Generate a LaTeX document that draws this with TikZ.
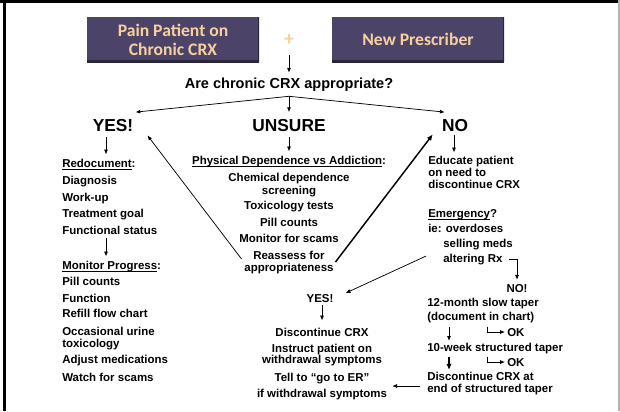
\documentclass[tikz,border=0pt]{standalone}
\usepackage{fontspec}
\setmainfont{Liberation Sans}
\newfontfamily\carlito{Carlito}
\usetikzlibrary{arrows.meta,calc}
\definecolor{slate}{RGB}{76,68,104}
\definecolor{slateedge}{RGB}{42,37,58}
\definecolor{peach}{RGB}{248,208,158}
\newsavebox\ulbox
\newcommand\ulin[1]{\sbox\ulbox{#1}\rlap{\rule[-2.1pt]{\wd\ulbox}{0.7pt}}\usebox\ulbox}

\begin{document}
\begin{tikzpicture}[x=0.75pt,y=0.75pt,yscale=-1,xscale=1,
  txt/.style={font=\fontsize{8.6}{10}\selectfont\bfseries,inner sep=0pt,anchor=base west},
  mid/.style={font=\fontsize{8.6}{10}\selectfont\bfseries,inner sep=0pt,anchor=base},
  big/.style={font=\fontsize{13}{15}\selectfont\bfseries,inner sep=0pt,anchor=base},
  ques/.style={font=\fontsize{10.9}{13}\selectfont\bfseries,inner sep=0pt,anchor=base},
  slab/.style={fill=slate,minimum width=129pt,minimum height=33.75pt,inner sep=0pt,align=center,text=peach,
    font=\carlito\bfseries\fontsize{13.2}{14.25}\selectfont,
    path picture={\draw[slateedge,line width=3pt] (path picture bounding box.south west) -- (path picture bounding box.south east);
      \draw[slateedge,line width=1pt] (path picture bounding box.south east) -- (path picture bounding box.north east);}},
  arr/.style={-{Latex[length=3.6pt,width=3pt]},line width=0.55pt},
  thickarr/.style={-{Latex[length=4.5pt,width=4pt]},line width=1.1pt}]
%uncomment if require: \path (0,411); %set diagram left start at 0, and has height of 411
\useasboundingbox (0,0) rectangle (620,411);

%Straight Lines (frame)
\draw[line width=2.2pt] (0,1.4) -- (620,1.4);
\draw[line width=2pt] (4.2,0) -- (4.2,411);
\draw[black!30,line width=0.9pt] (619,0) -- (619,411);

%Shape: Boxes
\draw (173,39.5) node (patient) [slab] {Pain Patient on\\Chronic CRX};
\draw (418,39.5) node (prescr) [slab] {New Prescriber};
% Text Node
\draw (289,40) node (plus) [text=peach,font=\carlito\bfseries\fontsize{15}{15}\selectfont,inner sep=0pt] {+};
% Text Node
\draw (289,88) node (ques) [ques] {Are chronic CRX appropriate?};
\coordinate (split) at ($(ques.south)+(0,5)$);

% Text Node
\draw (113,131) node (yes) [big] {YES!};
% Text Node
\draw (289,131) node (unsure) [big] {UNSURE};
% Text Node
\draw (455,131) node (no) [big] {NO};

%Straight Lines
\draw[arr] ($(plus.south)+(0,9)$) -- ($(ques.north)+(0,-4.5)$);
\draw[arr] (split) -- ($(yes.north east)+(2,-6.5)$);
\draw[arr] (split) -- ($(unsure.north)+(0,-6.5)$);
\draw[arr] (split) -- ($(no.north west)+(3,-6.5)$);

% Text Node (yes column)
\draw (62,167) node (redoc) [txt] {\ulin{Redocument}:};
\draw (62,184) node (diag) [txt] {Diagnosis};
\draw (62,201) node (workup) [txt] {Work-up};
\draw (62,217) node (goal) [txt] {Treatment goal};
\draw (62,234) node (fstat) [txt] {Functional status};
\draw (62,269) node (monitor) [txt] {\ulin{Monitor Progress}:};
\draw (62,285) node (pills) [txt] {Pill counts};
\draw (62,302) node (func) [txt] {Function};
\draw (62,317) node (refill) [txt] {Refill flow chart};
\draw (62,335) node (urine) [txt] {Occasional urine};
\draw (62,347) node (toxic) [txt] {toxicology};
\draw (62,363) node (adjust) [txt] {Adjust medications};
\draw (62,381) node (scams) [txt] {Watch for scams};

% Text Node (unsure column)
\draw (289,164) node (physdep) [mid] {\ulin{Physical Dependence vs Addiction}:};
\draw (289,181) node (chem) [mid] {Chemical dependence};
\draw (289,194) node (screen) [mid] {screening};
\draw (289,209) node (toxtest) [mid] {Toxicology tests};
\draw (289,226) node (upills) [mid] {Pill counts};
\draw (289,242) node (scamwatch) [mid] {Monitor for scams};
\draw (289,259) node (reassess) [mid] {Reassess for};
\draw (289,271) node (approp) [mid] {appropriateness};

% Text Node (no column)
\draw (428,164) node (educ) [txt] {Educate patient};
\draw (428,176) node (onneed) [txt] {on need to};
\draw (428,188) node (discont) [txt] {discontinue CRX};
\draw (428,217) node (emerg) [txt] {\ulin{Emergency}?};
\draw (428,232) node (ie) [txt] {ie: overdoses};
\draw (443,247) node (selling) [txt] {selling meds};
\draw (443,262) node (altering) [txt] {altering Rx};
\draw (517,292) node (nobang) [mid] {NO!};
\draw (427,306) node (slow) [txt] {12-month slow taper};
\draw (427,320) node (docchart) [txt] {(document in chart)};
\draw (507,336) node (ok1) [txt] {OK};
\draw (427,351) node (week) [txt] {10-week structured taper};
\draw (507,366) node (ok2) [txt] {OK};
\draw (427,380) node (discat) [txt] {Discontinue CRX at};
\draw (427,392) node (endtaper) [txt] {end of structured taper};

% Text Node (lower middle)
\draw (320,302) node (yes2) [mid] {YES!};
\draw (322,336) node (disc2) [mid] {Discontinue CRX};
\draw (322,352) node (instr) [mid] {Instruct patient on};
\draw (322,363) node (withd) [mid] {withdrawal symptoms};
\draw (322,381) node (goer) [mid] {Tell to “go to ER”};
\draw (322,397) node (ifwd) [mid] {if withdrawal symptoms};

%Straight Lines
\draw[arr] ($(yes.south)+(-7,6)$) -- ($(yes.south |- redoc.north)+(-7,-4)$);
\draw[arr] ($(fstat.south west)+(44,4)$) -- ($(monitor.north west)+(44,-4)$);
\draw[arr] ($(unsure.south)+(0,6)$) -- ($(unsure.south |- physdep.north)+(0,-4)$);
\draw[arr] ($(no.south)+(-1,4)$) -- ($(no.south |- educ.north)+(-1,-3)$);
\draw[arr] ($(reassess.base west)+(-11.5,0)$) -- ($(yes.south east)+(14,4)$);
\draw[thickarr] ($(reassess.base east)+(10.5,3)$) -- ($(no.south west)+(-9,3)$);
\draw[arr] ($(altering.east)+(6,0)$) -| ($(nobang.north)+(0,-4)$);
\draw[arr] ($(altering.west)+(-17,-3)$) -- ($(yes2.east)+(12,-5)$);
\draw[arr] ($(yes2.south)+(2,3)$) -- ($(yes2.south |- disc2.north)+(2,-7)$);
\draw[arr] ($(docchart.south west)+(22,4)$) -- ($(week.north west)+(22,-1.5)$);
\draw[arr] ($(docchart.south west)+(60,4)$) |- ($(ok1.west)+(-2,0)$);
\draw[thickarr] ($(week.south west)+(22,3.5)$) -- ($(discat.north west)+(22,-1.5)$);
\draw[arr] ($(week.south west)+(60,3.5)$) |- ($(ok2.west)+(-2,0)$);
\draw[arr] ($(discat.base west)+(-7,6)$) -- ($(ifwd.base east)+(5,-11)$);

\end{tikzpicture}
\end{document}
